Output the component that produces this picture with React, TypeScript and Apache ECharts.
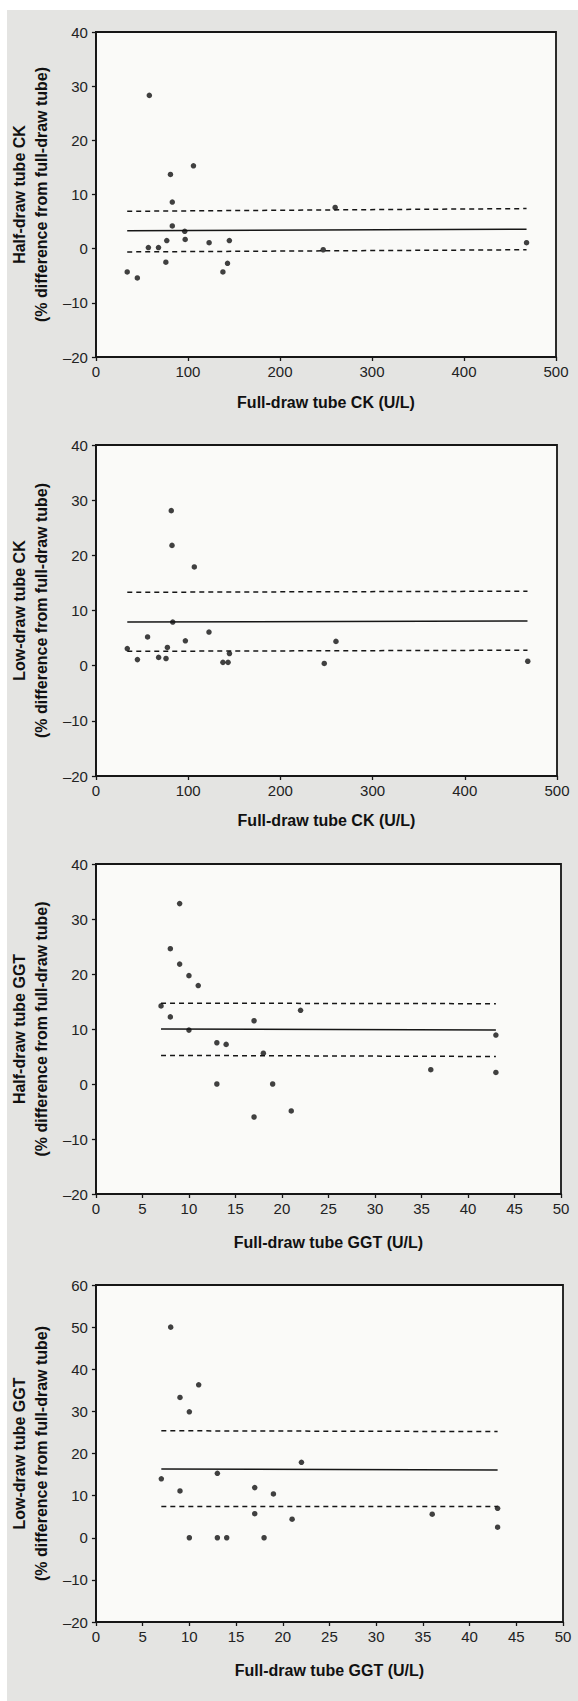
import React, { useEffect, useRef } from "react";
import * as echarts from "echarts";

// Panel 1: Half-draw tube CK
const p1X = [34, 45, 58, 57, 68, 76, 77, 81, 83, 83, 96.5, 97, 106, 123, 138, 143, 145, 247, 260, 468];
const p1Y = [-4.3, -5.4, 28.3, 0.2, 0.2, -2.5, 1.5, 13.7, 8.6, 4.2, 3.2, 1.7, 15.3, 1.1, -4.3, -2.7, 1.5, -0.2, 7.6, 1.1];
const p1LineX = [34, 468];
const p1Mean = [3.3, 3.6];
const p1Upper = [6.9, 7.4];
const p1Lower = [-0.6, -0.2];

// Panel 2: Low-draw tube CK
const p2X = [34, 45, 56, 68, 76, 77.5, 81.7, 82.5, 83.3, 97, 106.7, 122.6, 137.7, 143.3, 144.8, 247.6, 260.3, 468.3];
const p2Y = [3.1, 1.1, 5.2, 1.5, 1.3, 3.3, 28.1, 21.8, 7.9, 4.5, 17.9, 6.1, 0.6, 0.6, 2.2, 0.4, 4.4, 0.8];
const p2LineX = [34, 468];
const p2Mean = [7.9, 8.1];
const p2Upper = [13.3, 13.5];
const p2Lower = [2.6, 2.8];

// Panel 3: Half-draw tube GGT
const p3X = [7, 8, 8, 9, 9, 10, 10, 11, 13, 13, 14, 17, 17, 18, 19, 21, 22, 36, 43, 43];
const p3Y = [14.2, 12.2, 24.6, 32.8, 21.8, 19.7, 9.8, 17.9, 7.5, 0, 7.2, 11.5, -6.0, 5.6, 0, -4.9, 13.4, 2.6, 8.9, 2.1];
const p3LineX = [7, 43];
const p3Mean = [10.0, 9.8];
const p3Upper = [14.7, 14.6];
const p3Lower = [5.2, 5.0];

// Panel 4: Low-draw tube GGT
const p4X = [7, 8, 9, 9, 10, 10, 11, 13, 13, 14, 17, 17, 18, 19, 21, 22, 36, 43, 43];
const p4Y = [14.0, 50, 33.3, 11.1, 29.9, 0, 36.3, 15.3, 0, 0, 11.9, 5.7, 0, 10.4, 4.4, 17.9, 5.6, 7.0, 2.5];
const p4LineX = [7, 43];
const p4Mean = [16.3, 16.1];
const p4Upper = [25.4, 25.2];
const p4Lower = [7.4, 7.4];

const xTitles = ["Full-draw tube CK (U/L)", "Full-draw tube CK (U/L)", "Full-draw tube GGT (U/L)", "Full-draw tube GGT (U/L)"];
const yTitles = [
  "Half-draw tube CK\n(% difference from full-draw tube)",
  "Low-draw tube CK\n(% difference from full-draw tube)",
  "Half-draw tube GGT\n(% difference from full-draw tube)",
  "Low-draw tube GGT\n(% difference from full-draw tube)",
];

const xMaxes = [500, 500, 50, 50];
const xSteps = [100, 100, 5, 5];
const yMins = [-20, -20, -20, -20];
const yMaxes = [40, 40, 40, 60];
const ySteps = [10, 10, 10, 10];

const FONT = "'Liberation Sans', Arial, sans-serif";

const panels = [
  { x: p1X, y: p1Y, lx: p1LineX, mean: p1Mean, up: p1Upper, lo: p1Lower },
  { x: p2X, y: p2Y, lx: p2LineX, mean: p2Mean, up: p2Upper, lo: p2Lower },
  { x: p3X, y: p3Y, lx: p3LineX, mean: p3Mean, up: p3Upper, lo: p3Lower },
  { x: p4X, y: p4Y, lx: p4LineX, mean: p4Mean, up: p4Upper, lo: p4Lower },
];

const gridBoxes = [
  { left: 89, top: 32, width: 467, height: 325 },
  { left: 90, top: 445, width: 467, height: 331 },
  { left: 92, top: 864, width: 469, height: 330 },
  { left: 92, top: 1285, width: 471, height: 337 },
];
const xNameGaps = [37, 36, 40, 40];

export default function App() {
  const ref = useRef<HTMLDivElement>(null);
  useEffect(() => {
    document.body.style.margin = "0";
    if (!ref.current) return;
    const chart = echarts.init(ref.current, undefined, { renderer: "svg" });
    const fmt = (v: number) => (v < 0 ? "\u2013" + Math.abs(v) : String(v));
    const grid = gridBoxes.map((g) => ({
      ...g,
      show: true,
      backgroundColor: "#fafaf8",
      borderColor: "#161616",
      borderWidth: 1.8,
      containLabel: false,
    }));
    const xAxis = panels.map((_, i) => ({
      type: "value",
      gridIndex: i,
      min: 0,
      max: xMaxes[i],
      interval: xSteps[i],
      name: xTitles[i],
      nameLocation: "middle",
      nameGap: xNameGaps[i],
      nameTextStyle: { fontFamily: FONT, fontWeight: "bold", fontSize: 16, color: "#111" },
      axisLine: { show: true, onZero: false, lineStyle: { color: "#161616", width: 1.8 } },
      axisTick: { show: true, inside: false, length: 4, lineStyle: { color: "#161616", width: 1.3 } },
      axisLabel: { fontFamily: FONT, fontSize: 15, color: "#222", margin: 7, formatter: fmt },
      splitLine: { show: false },
    }));
    const yAxis = panels.map((_, i) => ({
      type: "value",
      gridIndex: i,
      min: yMins[i],
      max: yMaxes[i],
      interval: ySteps[i],
      name: yTitles[i],
      nameLocation: "middle",
      nameRotate: 90,
      nameGap: 27,
      nameTextStyle: { fontFamily: FONT, fontWeight: "bold", fontSize: 16, color: "#111", lineHeight: 22 },
      axisLine: { show: true, onZero: false, lineStyle: { color: "#161616", width: 1.8 } },
      axisTick: { show: true, inside: false, length: 4, lineStyle: { color: "#161616", width: 1.3 } },
      axisLabel: { fontFamily: FONT, fontSize: 15, color: "#222", margin: 8, formatter: fmt },
      splitLine: { show: false },
    }));
    const series: any[] = [];
    panels.forEach((p, i) => {
      series.push({
        type: "scatter",
        xAxisIndex: i,
        yAxisIndex: i,
        symbol: "circle",
        symbolSize: 5.5,
        itemStyle: { color: "#111" },
        data: p.x.map((v, k) => [v, p.y[k]]),
        z: 5,
      });
      const mk = (vals: number[], dashed: boolean) => ({
        type: "line",
        xAxisIndex: i,
        yAxisIndex: i,
        symbol: "none",
        lineStyle: { color: "#161616", width: 1.5, type: dashed ? [5, 4] : "solid" },
        data: p.lx.map((v, k) => [v, vals[k]]),
        z: 3,
      });
      series.push(mk(p.mean, false));
      series.push(mk(p.up, true));
      series.push(mk(p.lo, true));
    });
    chart.setOption({
      animation: false,
      backgroundColor: "#ffffff",
      graphic: [
        {
          type: "rect",
          shape: { x: 7, y: 10, width: 571, height: 1691 },
          style: { fill: "#e4e4e2" },
          z: -10,
          silent: true,
        },
      ],
      grid,
      xAxis,
      yAxis,
      series,
    });
    return () => chart.dispose();
  }, []);
  return <div ref={ref} style={{ width: 578, height: 1701 }} />;
}
